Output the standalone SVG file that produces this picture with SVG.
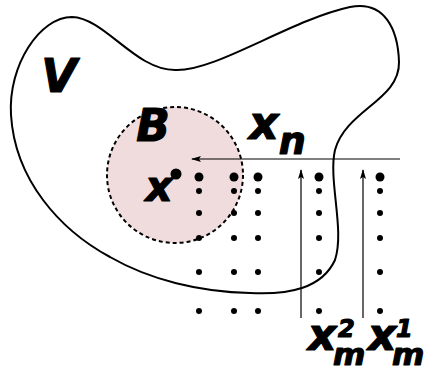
<svg xmlns="http://www.w3.org/2000/svg" width="430" height="369" viewBox="0 0 430 369">
<defs>
<style>
.lbl{font-family:"DejaVu Sans",sans-serif;font-weight:bold;font-style:oblique;fill:#000;stroke:#000;stroke-width:1.2;stroke-linejoin:round}
.dot{fill:#000}
.arr{stroke:#000;stroke-width:1.2;fill:none}
</style>
<marker id="ah" viewBox="0 0 10 6" refX="9" refY="3" markerWidth="10" markerHeight="6" markerUnits="userSpaceOnUse" orient="auto">
<path d="M0,0 L10,3 L0,6 L2,3 Z" fill="#000"/>
</marker>
</defs>
<rect width="430" height="369" fill="#fff"/>
<g id="region-V">
<path d="M175,70 C215,72 290,20 350,7 C385,0 398,30 399,62 C400,100 346,110 335,150 C328,180 345,230 335,260 C322,288 290,295 250,293 C200,292 150,280 110,257 C60,230 15,180 11,115 C8,65 40,17 72,17 C105,18 135,70 175,70 Z" fill="none" stroke="#000" stroke-width="2"/>
<text class="lbl" x="59" y="92" font-size="46" text-anchor="middle">V</text>
</g>
<g id="ball-B">
<circle cx="175" cy="175" r="68" fill="#f0dcdc" stroke="#000" stroke-width="2" stroke-dasharray="4,3"/>
<text class="lbl" x="153" y="141" font-size="44" text-anchor="middle">B</text>
</g>
<g id="point-x">
<circle class="dot" cx="176" cy="174" r="5.5"/>
<line x1="176" y1="174" x2="168" y2="182" stroke="#000" stroke-width="2"/>
<text class="lbl" x="159" y="201" font-size="42" text-anchor="middle">x</text>
</g>
<g id="grid">
<g class="dot">
<circle cx="199" cy="177" r="4.5"/><circle cx="234" cy="177" r="4.5"/><circle cx="258" cy="177" r="4.5"/><circle cx="319" cy="177" r="4.5"/><circle cx="380" cy="177" r="4.5"/>
<circle cx="199" cy="191" r="3"/><circle cx="234" cy="191" r="3"/><circle cx="258" cy="191" r="3"/><circle cx="319" cy="191" r="3"/><circle cx="380" cy="191" r="3"/>
<circle cx="199" cy="213" r="3"/><circle cx="234" cy="213" r="3"/><circle cx="258" cy="213" r="3"/><circle cx="319" cy="213" r="3"/><circle cx="380" cy="213" r="3"/>
<circle cx="199" cy="238" r="3"/><circle cx="234" cy="238" r="3"/><circle cx="258" cy="238" r="3"/><circle cx="319" cy="238" r="3"/><circle cx="380" cy="238" r="3"/>
<circle cx="199" cy="272" r="3"/><circle cx="234" cy="272" r="3"/><circle cx="258" cy="272" r="3"/><circle cx="319" cy="272" r="3"/><circle cx="380" cy="272" r="3"/>
<circle cx="199" cy="311" r="3"/><circle cx="234" cy="311" r="3"/><circle cx="258" cy="311" r="3"/><circle cx="319" cy="311" r="3"/><circle cx="380" cy="311" r="3"/>
</g>
</g>
<g id="connectors">
<line class="arr" x1="400" y1="159" x2="192" y2="159" marker-end="url(#ah)"/>
<line class="arr" x1="301" y1="318" x2="301" y2="170" marker-end="url(#ah)"/>
<line class="arr" x1="363" y1="318" x2="363" y2="170" marker-end="url(#ah)"/>
</g>
<g id="label-xn">
<text class="lbl" x="249" y="139" font-size="46">x<tspan font-size="38" dy="15">n</tspan></text>
</g>
<g id="label-xm2">
<text class="lbl" x="308" y="350" font-size="44">x</text>
<text class="lbl" x="338" y="337" font-size="24">2</text>
<text class="lbl" x="333" y="365" font-size="31">m</text>
</g>
<g id="label-xm1">
<text class="lbl" x="368" y="350" font-size="44">x</text>
<text class="lbl" x="396" y="337" font-size="24">1</text>
<text class="lbl" x="392" y="365" font-size="31">m</text>
</g>
</svg>
